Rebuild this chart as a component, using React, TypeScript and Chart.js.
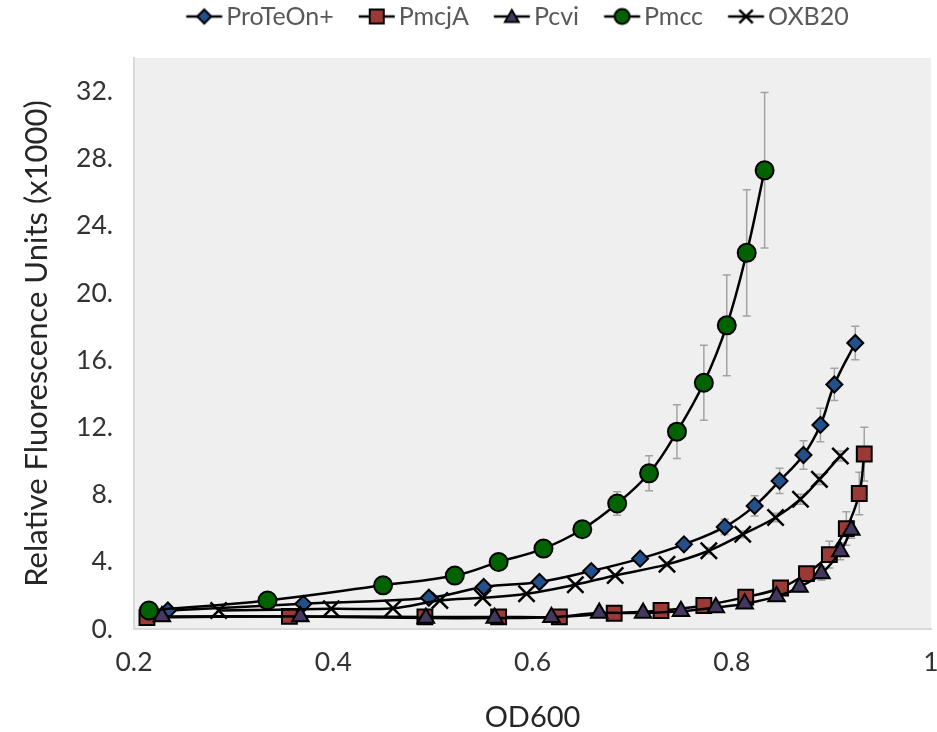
import React, { useEffect, useRef } from 'react';
import { Chart, registerables } from 'chart.js';

Chart.register(...registerables);

// ---------- data ----------
const seriesNames = ['ProTeOn+', 'PmcjA', 'Pcvi', 'Pmcc', 'OXB20'];

const proteonX = [0.234, 0.370, 0.496, 0.551, 0.607, 0.659, 0.708, 0.752, 0.793, 0.823, 0.848, 0.872, 0.889, 0.903, 0.924];
const proteonY = [1.10, 1.50, 1.86, 2.50, 2.80, 3.45, 4.19, 5.04, 6.08, 7.33, 8.82, 10.36, 12.15, 14.56, 17.03];
const proteonErr = [0.05, 0.05, 0.1, 0.15, 0.15, 0.2, 0.25, 0.3, 0.45, 0.6, 0.75, 0.85, 1.0, 0.96, 1.0];

const pmcjaX = [0.213, 0.356, 0.492, 0.566, 0.627, 0.682, 0.729, 0.772, 0.814, 0.849, 0.875, 0.898, 0.915, 0.928, 0.933];
const pmcjaY = [0.68, 0.75, 0.72, 0.72, 0.72, 0.94, 1.10, 1.40, 1.90, 2.44, 3.30, 4.43, 5.98, 8.07, 10.42];
const pmcjaErr = [0, 0, 0, 0, 0, 0.05, 0.1, 0.15, 0.2, 0.3, 0.4, 0.8, 1.0, 1.27, 1.6];

const pcviX = [0.228, 0.367, 0.493, 0.562, 0.619, 0.667, 0.711, 0.749, 0.784, 0.813, 0.845, 0.868, 0.890, 0.909, 0.920];
const pcviY = [0.75, 0.75, 0.65, 0.65, 0.70, 0.95, 0.95, 1.05, 1.28, 1.50, 1.94, 2.50, 3.30, 4.62, 5.90];
const pcviErr = [0, 0, 0, 0, 0, 0, 0.05, 0.05, 0.1, 0.15, 0.2, 0.3, 0.4, 0.5, 0.5];

const pmccX = [0.215, 0.334, 0.450, 0.522, 0.566, 0.611, 0.650, 0.685, 0.717, 0.745, 0.772, 0.795, 0.815, 0.833];
const pmccY = [1.10, 1.70, 2.60, 3.18, 3.99, 4.79, 5.94, 7.47, 9.27, 11.75, 14.66, 18.08, 22.40, 27.31];
const pmccErr = [0.05, 0.1, 0.1, 0.15, 0.2, 0.25, 0.3, 0.7, 1.04, 1.6, 2.23, 3.0, 3.76, 4.63];

const oxbX = [0.285, 0.398, 0.460, 0.507, 0.550, 0.594, 0.643, 0.683, 0.735, 0.777, 0.811, 0.844, 0.869, 0.888, 0.909];
const oxbY = [1.10, 1.20, 1.24, 1.70, 1.86, 2.10, 2.64, 3.19, 3.85, 4.66, 5.64, 6.64, 7.73, 8.91, 10.30];
const oxbErr = [0, 0, 0, 0.05, 0.05, 0.05, 0.1, 0.1, 0.15, 0.2, 0.2, 0.25, 0.3, 0.3, 0.3];

const xTicks = [0.2, 0.4, 0.6, 0.8, 1];
const yTicks = [0, 4, 8, 12, 16, 20, 24, 28, 32];

const xTitle = 'OD600';
const yTitle = 'Relative Fluorescence Units (x1000)';

// ---------- styles ----------
const FONT = 'Lato, "Liberation Sans", sans-serif';
const markerStyles = ['rectRot', 'rect', 'triangle', 'circle', 'crossRot'];
const markerFills = ['#21508a', '#9a3a36', '#453860', '#006300', '#000000'];
const markerRadii = [8, 10.5, 9.5, 9, 11.5];
const legendRadii = [7, 7, 8, 7.5, 9.5];

const xs = [proteonX, pmcjaX, pcviX, pmccX, oxbX];
const ys = [proteonY, pmcjaY, pcviY, pmccY, oxbY];
const errs = [proteonErr, pmcjaErr, pcviErr, pmccErr, oxbErr];

function makeIcon(kind: string, fill: string, r: number): HTMLCanvasElement {
  const c = document.createElement('canvas');
  c.width = 80;
  c.height = 26;
  const g = c.getContext('2d') as CanvasRenderingContext2D;
  const cy = 13;
  const a = 36.75;
  const cx = a + 18;
  g.strokeStyle = '#000';
  g.lineWidth = 2.5;
  g.beginPath();
  g.moveTo(a, cy);
  g.lineTo(a + 36, cy);
  g.stroke();
  g.fillStyle = fill;
  g.lineWidth = 2;
  g.beginPath();
  if (kind === 'rectRot') {
    g.moveTo(cx - r, cy);
    g.lineTo(cx, cy - r);
    g.lineTo(cx + r, cy);
    g.lineTo(cx, cy + r);
    g.closePath();
    g.fill();
    g.stroke();
  } else if (kind === 'rect') {
    g.rect(cx - r, cy - r, 2 * r, 2 * r);
    g.fill();
    g.stroke();
  } else if (kind === 'triangle') {
    for (let k = 0; k < 3; k++) {
      const ang = (k * 2 * Math.PI) / 3;
      const px = cx + Math.sin(ang) * r;
      const py = cy + 1.5 - Math.cos(ang) * r;
      if (k === 0) g.moveTo(px, py);
      else g.lineTo(px, py);
    }
    g.closePath();
    g.fill();
    g.stroke();
  } else if (kind === 'circle') {
    g.arc(cx, cy, r, 0, Math.PI * 2);
    g.fill();
    g.stroke();
  } else {
    const d = r * Math.SQRT1_2;
    g.lineWidth = 2.5;
    g.moveTo(cx - d, cy - d);
    g.lineTo(cx + d, cy + d);
    g.moveTo(cx + d, cy - d);
    g.lineTo(cx - d, cy + d);
    g.stroke();
  }
  return c;
}

const plotBgPlugin = {
  id: 'plotBg',
  beforeDraw(chart: any) {
    const { ctx, chartArea } = chart;
    ctx.save();
    ctx.fillStyle = '#efefef';
    ctx.fillRect(chartArea.left, chartArea.top, chartArea.right - chartArea.left, chartArea.bottom - chartArea.top);
    ctx.restore();
  },
};

// Shift the (full-width) legend so it sits where the reference legend is.
const legendShiftPlugin = {
  id: 'legendShift',
  afterLayout(chart: any) {
    const lg = chart.legend;
    if (!lg) return;
    lg.left += 41.5;
    lg.right += 41.5;
  },
};

const errorBarPlugin = {
  id: 'errorBars',
  beforeDatasetsDraw(chart: any) {
    const { ctx, chartArea } = chart;
    const xScale = chart.scales.x;
    const yScale = chart.scales.y;
    ctx.save();
    ctx.beginPath();
    ctx.rect(chartArea.left, chartArea.top, chartArea.right - chartArea.left, chartArea.bottom - chartArea.top);
    ctx.clip();
    ctx.strokeStyle = '#a3a3a3';
    ctx.lineWidth = 1.5;
    errs.forEach((eArr, di) => {
      eArr.forEach((e, i) => {
        if (!e) return;
        const px = xScale.getPixelForValue(xs[di][i]);
        const top = yScale.getPixelForValue(ys[di][i] + e);
        const bot = yScale.getPixelForValue(ys[di][i] - e);
        ctx.beginPath();
        ctx.moveTo(px, top);
        ctx.lineTo(px, bot);
        ctx.moveTo(px - 4, top);
        ctx.lineTo(px + 4, top);
        ctx.moveTo(px - 4, bot);
        ctx.lineTo(px + 4, bot);
        ctx.stroke();
      });
    });
    ctx.restore();
  },
};

export default function App() {
  const ref = useRef<HTMLCanvasElement | null>(null);

  useEffect(() => {
    if (!ref.current) return;
    const icons = seriesNames.map((_, i) => makeIcon(markerStyles[i], markerFills[i], legendRadii[i]));

    const datasets = seriesNames.map((name, i) => ({
      label: name,
      data: xs[i].map((x, k) => ({ x, y: ys[i][k] })),
      showLine: true,
      borderColor: '#000000',
      borderWidth: 2.5,
      tension: 0.4,
      pointStyle: markerStyles[i],
      pointRadius: markerRadii[i],
      pointHoverRadius: markerRadii[i],
      pointBackgroundColor: markerFills[i],
      pointBorderColor: '#000000',
      pointBorderWidth: i === 4 ? 2.5 : 2,
      order: seriesNames.length - 1 - i,
    }));

    const chart = new Chart(ref.current, {
      type: 'scatter',
      data: { datasets },
      options: {
        responsive: false,
        animation: false,
        layout: { autoPadding: false, padding: { left: 0, right: 6, top: 0, bottom: 0 } } as any,
        plugins: {
          tooltip: { enabled: false },
          title: {
            display: true,
            text: ' ',
            weight: 500,
            padding: 0,
            font: { size: 19, lineHeight: 1, family: FONT },
          } as any,
          legend: {
            display: true,
            position: 'top',
            labels: {
              usePointStyle: true,
              pointStyleWidth: 48.5,
              padding: 4,
              color: '#595959',
              font: { size: 25, family: FONT },
              generateLabels: () =>
                seriesNames.map((name, i) => ({
                  text: name,
                  pointStyle: icons[i],
                  fillStyle: markerFills[i],
                  strokeStyle: '#000',
                  lineWidth: 0,
                  hidden: false,
                  datasetIndex: i,
                  fontColor: '#595959',
                })) as any,
            },
          },
        },
        scales: {
          x: {
            type: 'linear',
            min: 0.2,
            max: 1,
            afterBuildTicks: (scale: any) => {
              scale.ticks = xTicks.map((v) => ({ value: v }));
            },
            afterFit: (scale: any) => {
              scale.height = 103;
              scale.paddingLeft = 0;
              scale.paddingRight = 0;
            },
            grid: { display: false, drawTicks: false },
            border: { display: true, color: '#d9d9d9', width: 2 },
            ticks: {
              padding: 18,
              color: '#333333',
              font: { size: 26.5, family: FONT },
              maxRotation: 0,
              callback: (v: any) => String(Number(Number(v).toFixed(1))),
            },
            title: {
              display: true,
              text: xTitle,
              color: '#262626',
              font: { size: 29, family: FONT, lineHeight: 1 },
              padding: { top: 0, bottom: 0 },
            },
          },
          y: {
            type: 'linear',
            min: 0,
            max: 34,
            afterBuildTicks: (scale: any) => {
              scale.ticks = yTicks.map((v) => ({ value: v }));
            },
            afterFit: (scale: any) => {
              scale.width = 134;
              scale.paddingTop = 0;
              scale.paddingBottom = 0;
            },
            grid: { display: false, drawTicks: false },
            border: { display: true, color: '#d9d9d9', width: 2 },
            ticks: {
              padding: 21,
              color: '#333333',
              font: { size: 26.5, family: FONT },
              callback: (v: any) => `${Math.round(Number(v))}.`,
            },
            title: {
              display: true,
              text: yTitle,
              color: '#262626',
              font: { size: 31, family: FONT, lineHeight: 1 },
              padding: { top: 21, bottom: 0 },
            },
          },
        },
      },
      plugins: [plotBgPlugin, errorBarPlugin, legendShiftPlugin],
    });

    return () => chart.destroy();
  }, []);

  return (
    <div style={{ position: 'absolute', left: 0, top: 0, width: 937, height: 732, background: '#ffffff' }}>
      <canvas ref={ref} width={937} height={732} style={{ display: 'block', width: 937, height: 732 }} />
    </div>
  );
}
